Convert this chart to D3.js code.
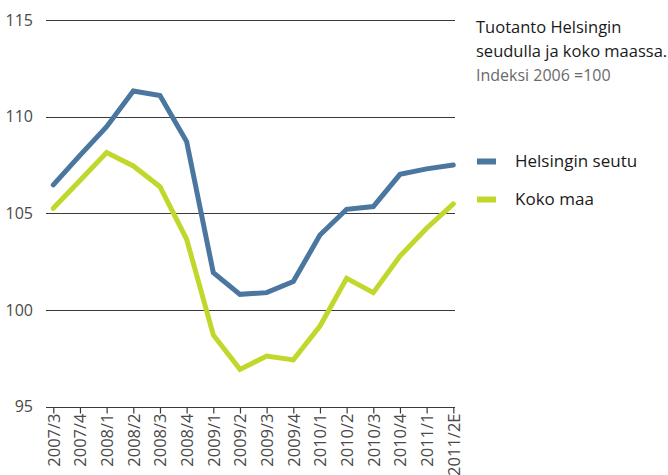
<!DOCTYPE html>
<html>
<head>
<meta charset="utf-8">
<script src="https://cdn.jsdelivr.net/npm/d3@7"></script>
<style>
body { margin: 0; background: #fff; }
svg { font-family: "Open Sans", "Noto Sans", sans-serif; }
</style>
</head>
<body>
<svg width="668" height="475"></svg>
<script>
var quarters = ["2007/3","2007/4","2008/1","2008/2","2008/3","2008/4","2009/1","2009/2","2009/3","2009/4","2010/1","2010/2","2010/3","2010/4","2011/1","2011/2E"]
var helsinki = [106.47,108.0,109.48,111.33,111.09,108.71,101.93,100.81,100.9,101.47,103.88,105.21,105.35,107.02,107.3,107.5]
var kokoMaa = [105.26,106.7,108.14,107.45,106.38,103.66,98.71,96.93,97.62,97.42,99.17,101.64,100.9,102.79,104.23,105.49]
var yTicks = [95,100,105,110,115]
var seriesNames = ["Helsingin seutu","Koko maa"]
var colors = ["#4a76a0","#c2d72c"]

var svg = d3.select("svg")

var x = d3.scalePoint().domain(quarters).range([53.3, 453.3])
var y = d3.scaleLinear().domain([95,115]).range([406.7, 20])

// grid lines
svg.append("g").selectAll("line").data(yTicks.slice(1)).enter().append("line")
  .attr("x1", 46).attr("x2", 455)
  .attr("y1", d => Math.round(y(d)) + 0.5).attr("y2", d => Math.round(y(d)) + 0.5)
  .attr("stroke", "#3a3a3a").attr("stroke-width", 1.2)

// y labels
svg.append("g").selectAll("text").data(yTicks).enter().append("text")
  .attr("x", 33).attr("y", d => y(d))
  .attr("dy", "0.35em")
  .attr("text-anchor", "end")
  .attr("fill", "#4a4a4a")
  .attr("font-size", 16)
  .text(d => d)

// x axis
var xAxis = svg.append("g")
  .attr("transform", `translate(0, ${Math.round(y(95)) + 0.5})`)
  .call(d3.axisBottom(x).tickSize(6).tickSizeOuter(0))
xAxis.select(".domain").attr("d", "M46,0H455").attr("stroke", "#3a3a3a").attr("stroke-width", 1.2)
xAxis.selectAll(".tick line").attr("stroke", "#3a3a3a").attr("stroke-width", 1.2)
xAxis.selectAll(".tick text")
  .attr("transform", "rotate(-90)")
  .attr("x", -6).attr("y", 0).attr("dy", "0.35em")
  .attr("text-anchor", "end")
  .attr("fill", "#4a4a4a")
  .attr("font-size", 16.5)
  .attr("font-family", "\"Open Sans\", sans-serif")

// lines
var line = d3.line().x((d, i) => x(quarters[i])).y(d => y(d))
;[helsinki, kokoMaa].forEach(function(s, i){
  svg.append("path").datum(s)
    .attr("d", line)
    .attr("fill", "none")
    .attr("stroke", colors[i])
    .attr("stroke-width", 5)
    .attr("stroke-linejoin", "miter")
    .attr("stroke-linecap", "round")
})

// title
var title = svg.append("text").attr("x", 476).attr("font-size", 16.5).attr("fill", "#1a1a1a")
title.append("tspan").attr("x", 476).attr("y", 33).text("Tuotanto Helsingin")
title.append("tspan").attr("x", 476).attr("y", 57).text("seudulla ja koko maassa.")
svg.append("text").attr("x", 476).attr("y", 81).attr("font-size", 16).attr("fill", "#6a6a6a").text("Indeksi 2006 =100")

// legend
var leg = svg.append("g").selectAll("g").data(seriesNames).enter().append("g")
  .attr("transform", (d, i) => `translate(477, ${161.5 + i * 38})`)
leg.append("line").attr("x1", 0).attr("x2", 19).attr("stroke", (d, i) => colors[i]).attr("stroke-width", 6)
leg.append("text").attr("x", 38).attr("dy", "0.35em").attr("font-size", 17).attr("fill", "#1a1a1a").text(d => d)
</script>
</body>
</html>
